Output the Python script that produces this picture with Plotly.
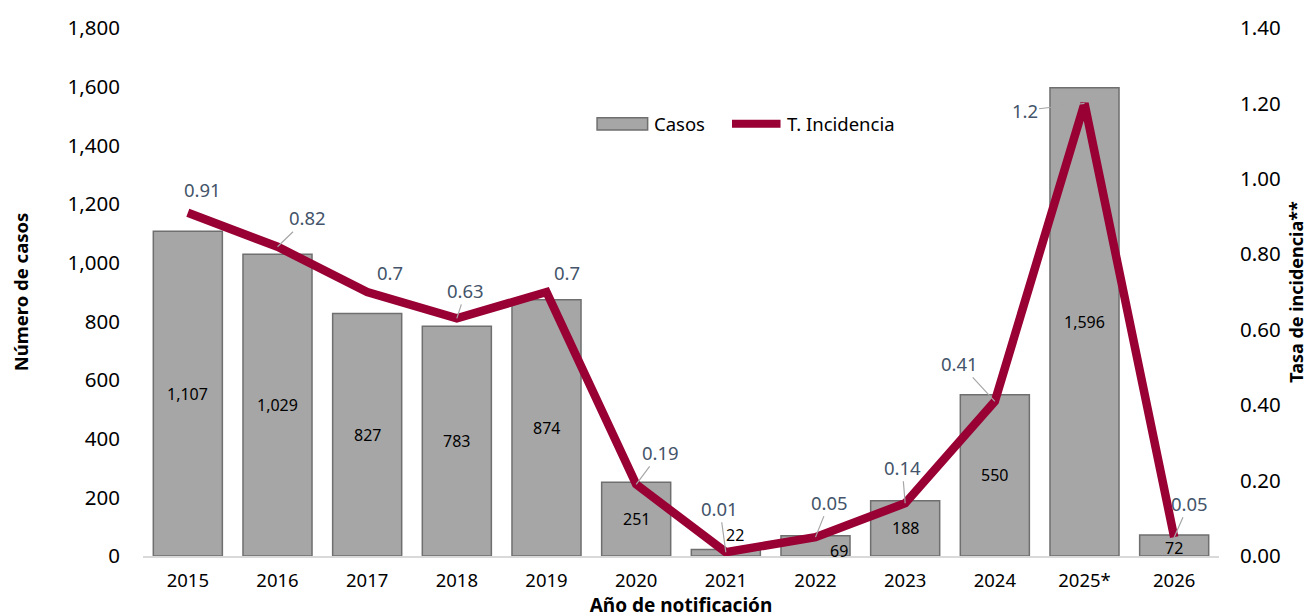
import plotly.graph_objects as go

years = ["2015", "2016", "2017", "2018", "2019", "2020", "2021", "2022", "2023", "2024", "2025*", "2026"]
casos = [1107, 1029, 827, 783, 874, 251, 22, 69, 188, 550, 1596, 72]
tasa = [0.91, 0.82, 0.7, 0.63, 0.7, 0.19, 0.01, 0.05, 0.14, 0.41, 1.2, 0.05]
tasa_labels = ["0.91", "0.82", "0.7", "0.63", "0.7", "0.19", "0.01", "0.05", "0.14", "0.41", "1.2", "0.05"]
casos_labels = ["1,107", "1,029", "827", "783", "874", "251", "22", "69", "188", "550", "1,596", "72"]
left_ticks = [0, 200, 400, 600, 800, 1000, 1200, 1400, 1600, 1800]
right_ticks = [0, 0.2, 0.4, 0.6, 0.8, 1.0, 1.2, 1.4]

# label offsets (pixels) for the rate labels: (ax, ay, show_leader)
rate_offsets = [(15, -23, False), (30, -29, True), (23, -20, False), (9, -28, True),
                (20, -20, False), (24, -32, True), (-6, -44, True), (14, -35, True),
                (-3, -36, True), (-35, -38, True), (-60, 7, True), (15, -34, True)]
# pixel shifts for labels of the small bars
bar_small = {"2021": (9, 15), "2022": (23, -15), "2026": (0, -13)}

FONT = "Noto Sans"
BAR_COLOR = "#a6a6a6"
BAR_LINE = "#6f6f6f"
LINE_COLOR = "#990033"

fig = go.Figure()
fig.add_trace(go.Bar(
    x=years, y=casos, name="Casos",
    marker=dict(color=BAR_COLOR, line=dict(color=BAR_LINE, width=1.5)),
    width=0.77, showlegend=False,
))
fig.add_trace(go.Scatter(
    x=years, y=tasa, name="T. Incidencia", yaxis="y2", mode="lines",
    line=dict(color=LINE_COLOR, width=8.5), showlegend=False,
))

# bar labels
for i, (yr, v, t) in enumerate(zip(years, casos, casos_labels)):
    if yr in bar_small:
        dx, dy = bar_small[yr]
        fig.add_annotation(x=i, y=v, xref="x", yref="y", text=t, showarrow=False,
                           xshift=dx, yshift=dy, font=dict(family=FONT, size=16, color="#000000"))
    else:
        fig.add_annotation(x=i, y=v / 2, xref="x", yref="y", text=t, showarrow=False,
                           font=dict(family=FONT, size=16, color="#000000"))

# rate labels
for i, (v, t, (ax, ay, lead)) in enumerate(zip(tasa, tasa_labels, rate_offsets)):
    fig.add_annotation(x=i, y=v, xref="x", yref="y2", text=t, showarrow=True,
                       ax=ax, ay=ay, arrowhead=0, arrowwidth=1.2,
                       arrowcolor="#a6a6a6" if lead else "rgba(0,0,0,0)",
                       standoff=0, startstandoff=0,
                       font=dict(family=FONT, size=18.5, color="#44546a"))

# custom legend (wide bar swatch + line swatch)
fig.add_shape(type="rect", xref="paper", yref="paper", x0=0.422, x1=0.469, y0=0.807, y1=0.830,
              fillcolor=BAR_COLOR, line=dict(color=BAR_LINE, width=1.5))
fig.add_annotation(xref="paper", yref="paper", x=0.473, y=0.8185, xanchor="left", yanchor="middle",
                   text="Casos", showarrow=False, font=dict(family=FONT, size=18.5, color="#000000"))
fig.add_shape(type="line", xref="paper", yref="paper", x0=0.5474, x1=0.5925, y0=0.8185, y1=0.8185,
              line=dict(color=LINE_COLOR, width=8))
fig.add_annotation(xref="paper", yref="paper", x=0.5966, y=0.8185, xanchor="left", yanchor="middle",
                   text="T. Incidencia", showarrow=False, font=dict(family=FONT, size=18.5, color="#000000"))

fig.update_layout(
    width=1313, height=616,
    margin=dict(l=135, r=102, t=20, b=68),
    paper_bgcolor="white", plot_bgcolor="white",
    font=dict(family=FONT, color="#000000"),
    showlegend=False,
    bargap=0.23,
    xaxis=dict(
        type="category", range=[-0.5, len(years) - 0.5], showgrid=False, showline=True,
        linecolor="#d9d9d9", linewidth=2, automargin=False, ticklabelstandoff=7,
        ticks="", tickfont=dict(family=FONT, size=18.5, color="#000000"),
        title=dict(text="<b>Año de notificación</b>", font=dict(family=FONT, size=19), standoff=0),
    ),
    yaxis=dict(
        range=[0, 1800], tickvals=left_ticks, tickformat=",", showgrid=False, zeroline=False,
        automargin=False,
        tickfont=dict(family=FONT, size=20.5, color="#000000"), ticklabelstandoff=22,
        title=dict(text="<b>Número de casos</b>", font=dict(family=FONT, size=18.5), standoff=34),
    ),
    yaxis2=dict(
        range=[0, 1.4], tickvals=right_ticks, tickformat=".2f", overlaying="y", side="right",
        showgrid=False, zeroline=False, automargin=False,
        tickfont=dict(family=FONT, size=20.5, color="#000000"), ticklabelstandoff=20,
        title=dict(text="<b>Tasa de incidencia**</b>", font=dict(family=FONT, size=18), standoff=10),
    ),
)

fig.write_html("out.html")
